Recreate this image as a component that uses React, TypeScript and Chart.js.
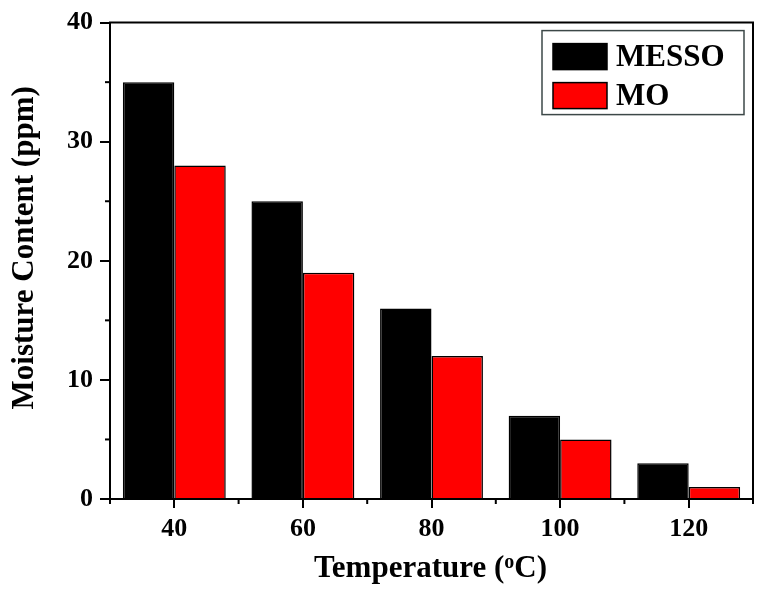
import React, { useEffect, useRef } from "react";
import { Chart, registerables } from "chart.js";

Chart.register(...registerables);

const categories = ["40", "60", "80", "100", "120"];
const messoValues = [35, 25, 16, 7, 3];
const moValues = [28, 19, 12, 5, 1];
const seriesNames = ["MESSO", "MO"];
const seriesColors = ["#000000", "#ff0000"];
const yMin = 0;
const yMax = 40;
const yStep = 10;
const yMinorTicks = [5, 15, 25, 35];
const xTitleParts = ["Temperature (", "o", "C)"];
const yTitle = "Moisture Content (ppm)";

const FONT = "'Liberation Serif', 'Times New Roman', serif";

const decorPlugin = {
  id: "decor",
  afterDraw(chart: any) {
    const { ctx, chartArea: ca, scales } = chart;
    const xs = scales.x;
    const ys = scales.y;
    ctx.save();
    // frame top and right
    ctx.strokeStyle = "#000";
    ctx.lineWidth = 2;
    ctx.beginPath();
    ctx.moveTo(ca.left - 1, ca.top);
    ctx.lineTo(ca.right, ca.top);
    ctx.lineTo(ca.right, ca.bottom + 1);
    ctx.stroke();

    // minor ticks
    ctx.lineWidth = 2;
    yMinorTicks.forEach((v) => {
      const py = ys.getPixelForValue(v);
      ctx.beginPath();
      ctx.moveTo(ca.left - 5, py);
      ctx.lineTo(ca.left, py);
      ctx.stroke();
    });
    for (let i = 0; i <= categories.length; i++) {
      const px = xs.getPixelForValue(i - 0.5);
      ctx.beginPath();
      ctx.moveTo(px, ca.bottom);
      ctx.lineTo(px, ca.bottom + 5);
      ctx.stroke();
    }

    // legend
    const boxW = 202;
    const boxH = 84;
    const bx = ca.right - 9 - boxW;
    const by = ca.top + 8;
    ctx.strokeStyle = "#3c4848";
    ctx.lineWidth = 1.5;
    ctx.strokeRect(bx, by, boxW, boxH);
    const dsets = chart.data.datasets;
    dsets.forEach((ds: any, i: number) => {
      const sy = by + 13 + i * 39;
      ctx.fillStyle = ds.backgroundColor;
      ctx.fillRect(bx + 11, sy, 54, 26);
      ctx.strokeStyle = "#000";
      ctx.lineWidth = 1.5;
      ctx.strokeRect(bx + 11, sy, 54, 26);
      ctx.fillStyle = "#000";
      ctx.font = `bold 31px ${FONT}`;
      ctx.textAlign = "left";
      ctx.textBaseline = "alphabetic";
      ctx.fillText(ds.label, bx + 74, sy + 22);
    });

    // x title with superscript
    ctx.fillStyle = "#000";
    ctx.textBaseline = "alphabetic";
    ctx.textAlign = "left";
    const bigFont = `bold 31px ${FONT}`;
    const supFont = `bold 20px ${FONT}`;
    ctx.font = bigFont;
    const w0 = ctx.measureText(xTitleParts[0]).width;
    const w2 = ctx.measureText(xTitleParts[2]).width;
    ctx.font = supFont;
    const w1 = ctx.measureText(xTitleParts[1]).width;
    const total = w0 + w1 + w2;
    const cx = (ca.left + ca.right) / 2 - 1;
    const baseY = ca.bottom + 78;
    let tx = cx - total / 2;
    ctx.font = bigFont;
    ctx.fillText(xTitleParts[0], tx, baseY);
    tx += w0;
    ctx.font = supFont;
    ctx.fillText(xTitleParts[1], tx, baseY - 9);
    tx += w1;
    ctx.font = bigFont;
    ctx.fillText(xTitleParts[2], tx, baseY);

    // y title rotated
    ctx.save();
    ctx.translate(ca.left - 77, (ca.top + ca.bottom) / 2 - 13);
    ctx.rotate(-Math.PI / 2);
    ctx.font = bigFont;
    ctx.textAlign = "center";
    ctx.textBaseline = "alphabetic";
    ctx.fillText(yTitle, 0, 0);
    ctx.restore();

    ctx.restore();
  },
};

export default function App() {
  const canvasRef = useRef<HTMLCanvasElement | null>(null);

  useEffect(() => {
    if (!canvasRef.current) return;
    const chart = new Chart(canvasRef.current, {
      type: "bar",
      data: {
        labels: categories,
        datasets: [
          {
            label: seriesNames[0],
            data: messoValues,
            backgroundColor: seriesColors[0],
            borderColor: "#000",
            borderWidth: 1.5,
            categoryPercentage: 0.8,
            barPercentage: 1.0,
          },
          {
            label: seriesNames[1],
            data: moValues,
            backgroundColor: seriesColors[1],
            borderColor: "#000",
            borderWidth: 1.5,
            categoryPercentage: 0.8,
            barPercentage: 1.0,
          },
        ],
      },
      options: {
        responsive: true,
        maintainAspectRatio: false,
        animation: false,
        layout: { padding: { top: 20, right: 24, left: 0, bottom: 0 } },
        plugins: {
          legend: { display: false },
          tooltip: { enabled: false },
        },
        scales: {
          x: {
            type: "category",
            offset: true,
            grid: {
              offset: false,
              drawOnChartArea: false,
              drawTicks: true,
              tickLength: 9,
              color: "#000",
              lineWidth: 2,
            },
            border: { display: true, color: "#000", width: 2 },
            ticks: {
              color: "#000",
              font: { family: FONT, size: 26, weight: "bold" },
              padding: 6,
              maxRotation: 0,
            },
            afterFit: (s: any) => {
              s.height = 96;
            },
          },
          y: {
            min: yMin,
            max: yMax,
            grid: {
              drawOnChartArea: false,
              drawTicks: true,
              tickLength: 10,
              color: "#000",
              lineWidth: 2,
            },
            border: { display: true, color: "#000", width: 2 },
            ticks: {
              stepSize: yStep,
              color: "#000",
              font: { family: FONT, size: 26, weight: "bold" },
              padding: 7,
            },
            afterFit: (s: any) => {
              s.width = 110;
            },
          },
        },
      },
      plugins: [decorPlugin],
    });
    return () => chart.destroy();
  }, []);

  return (
    <div style={{ position: "fixed", left: 0, top: 0, width: 777, height: 595, background: "#fff" }}>
      <canvas ref={canvasRef} style={{ display: "block" }} />
    </div>
  );
}
